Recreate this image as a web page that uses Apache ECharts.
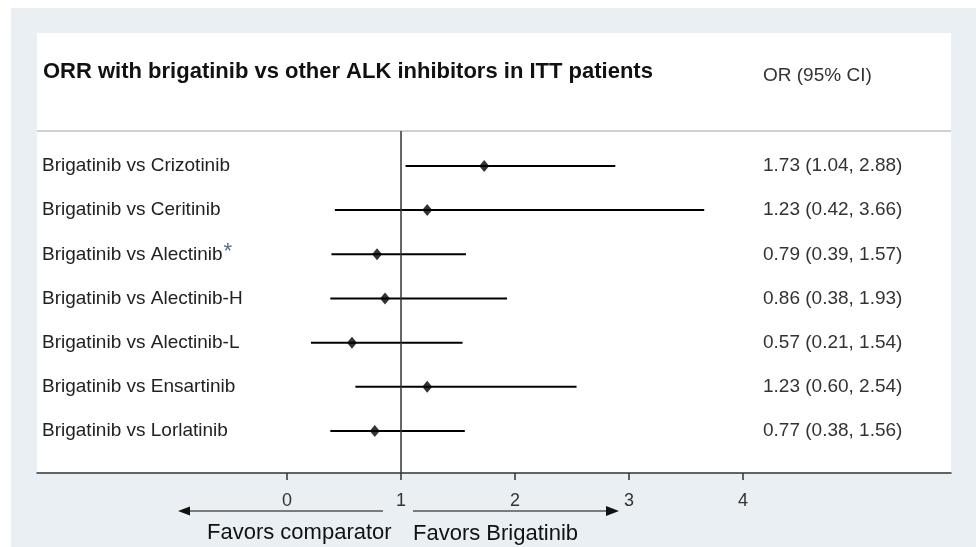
<!DOCTYPE html>
<html>
<head>
<meta charset="utf-8">
<script src="https://cdn.jsdelivr.net/npm/echarts@6/dist/echarts.min.js"></script>
<style>
html,body{margin:0;padding:0;background:#ffffff;}
#chart{width:976px;height:547px;}
</style>
</head>
<body>
<div id="chart"></div>
<script>
var comparisons = ['Brigatinib vs Crizotinib','Brigatinib vs Ceritinib','Brigatinib vs Alectinib','Brigatinib vs Alectinib-H','Brigatinib vs Alectinib-L','Brigatinib vs Ensartinib','Brigatinib vs Lorlatinib'];
var starred = [false,false,true,false,false,false,false];
var orValues = [1.73,1.23,0.79,0.86,0.57,1.23,0.77];
var ciLow = [1.04,0.42,0.39,0.38,0.21,0.60,0.38];
var ciHigh = [2.88,3.66,1.57,1.93,1.54,2.54,1.56];
var xTicks = [0,1,2,3,4];
var titleText = 'ORR with brigatinib vs other ALK inhibitors in ITT patients';
var colHeader = 'OR (95% CI)';

function fmt(v){return v.toFixed(2);}
var orLabels = orValues.map(function(v,i){return fmt(v)+' ('+fmt(ciLow[i])+', '+fmt(ciHigh[i])+')';});
var rowIdx = comparisons.map(function(_,i){return i;});

var chart = echarts.init(document.getElementById('chart'), null, {renderer:'canvas'});
var FONT = 'Liberation Sans, Arial, sans-serif';

var option = {
  animation:false,
  textStyle:{fontFamily:FONT},
  title:[
    {text:titleText,left:43,top:61,padding:0,textStyle:{fontFamily:FONT,fontSize:22,fontWeight:'bold',color:'#111'}},
    {text:colHeader,left:763,top:66,padding:0,textStyle:{fontFamily:FONT,fontSize:19,fontWeight:'normal',color:'#333'}}
  ],
  grid:{left:37,right:25,top:131,bottom:74,containLabel:false},
  xAxis:{
    type:'value',min:-2.193,max:5.825,
    splitLine:{show:false},
    axisLine:{show:true,onZero:false,lineStyle:{color:'#333',width:1.5}},
    axisTick:{show:true,length:7,lineStyle:{color:'#333',width:1.5},customValues:xTicks},
    axisLabel:{show:true,margin:19,fontSize:18,color:'#333',fontFamily:FONT,customValues:xTicks}
  },
  yAxis:[
    {
      type:'value',inverse:true,min:-0.79,max:6.95,position:'left',
      splitLine:{show:false},axisLine:{show:false},axisTick:{show:false},
      axisLabel:{show:true,inside:true,margin:5,fontSize:19,color:'#222',fontFamily:FONT,
        customValues:rowIdx,
        formatter:function(v){var i=Math.round(v);return comparisons[i]+(starred[i]?'{star|*}':'');},
        rich:{star:{fontSize:22,color:'#5a6a8c',fontFamily:FONT,padding:[0,0,4,1]}}
      }
    },
    {
      type:'value',inverse:true,min:-0.79,max:6.95,position:'right',offset:-193,
      splitLine:{show:false},axisLine:{show:false},axisTick:{show:false},
      axisLabel:{show:true,inside:false,margin:5,fontSize:19,color:'#333',fontFamily:FONT,
        customValues:rowIdx,
        formatter:function(v){return orLabels[Math.round(v)];}
      }
    }
  ],
  graphic:[
    {type:'rect',z:-20,silent:true,shape:{x:11,y:8,width:965,height:539},style:{fill:'#e9eff2'}},
    {type:'rect',z:-19,silent:true,shape:{x:37,y:33,width:914,height:440},style:{fill:'#ffffff'}},
    {type:'line',z:-18,silent:true,shape:{x1:37,y1:131,x2:951,y2:131},style:{stroke:'#cfd2d5',lineWidth:2}},
    {type:'line',silent:true,shape:{x1:383,y1:511,x2:186,y2:511},style:{stroke:'#555',lineWidth:1.5}},
    {type:'polygon',silent:true,shape:{points:[[178,511],[190,506.5],[190,515.5]]},style:{fill:'#111'}},
    {type:'line',silent:true,shape:{x1:413,y1:511,x2:607,y2:511},style:{stroke:'#555',lineWidth:1.5}},
    {type:'polygon',silent:true,shape:{points:[[619,511],[606,506],[606,516]]},style:{fill:'#111'}},
    {type:'text',silent:true,x:207,y:533,style:{text:'Favors comparator',fill:'#111',font:'22px '+FONT,textVerticalAlign:'middle'}},
    {type:'text',silent:true,x:413,y:534,style:{text:'Favors Brigatinib',fill:'#111',font:'22px '+FONT,textVerticalAlign:'middle'}}
  ],
  series:[
    {
      type:'custom',
      xAxisIndex:0,yAxisIndex:0,
      data:rowIdx.map(function(i){return [i,ciLow[i],ciHigh[i]];}),
      encode:{x:[1,2],y:0},
      renderItem:function(params,api){
        var a=api.coord([api.value(1),api.value(0)]);
        var b=api.coord([api.value(2),api.value(0)]);
        return {type:'line',shape:{x1:a[0],y1:a[1],x2:b[0],y2:b[1]},style:{stroke:'#000',lineWidth:2}};
      },
      markLine:{
        silent:true,symbol:'none',label:{show:false},
        lineStyle:{color:'#333',width:1.5,type:'solid'},
        data:[{xAxis:1}]
      },
      z:3
    },
    {
      type:'scatter',
      xAxisIndex:0,yAxisIndex:0,
      symbol:'diamond',symbolSize:[10,12],
      itemStyle:{color:'#000'},
      data:rowIdx.map(function(i){return [orValues[i],i];}),
      z:4
    }
  ]
};
chart.setOption(option);
</script>
</body>
</html>
